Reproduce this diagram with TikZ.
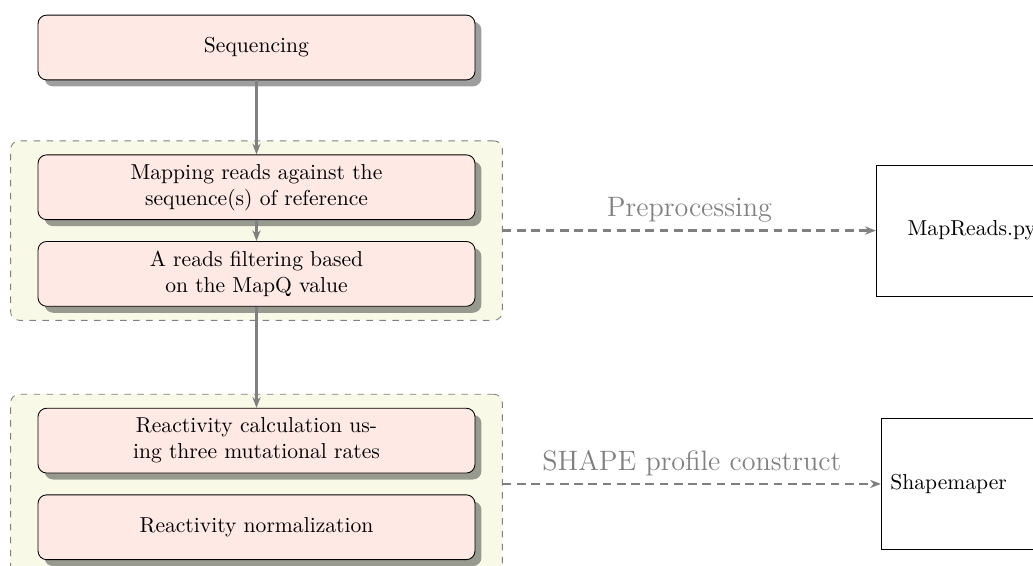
\documentclass[tikz,border=0pt]{standalone}
\usetikzlibrary{positioning, fit, backgrounds, shadows, arrows.meta}

\definecolor{stepfill}{RGB}{255,233,229}
\definecolor{groupfill}{RGB}{248,250,231}

\tikzset{
  stepbox/.style={draw, rounded corners=4pt, fill=stepfill,
    text width=120pt, align=center,
    minimum width=202.3pt, minimum height=30pt,
    drop shadow={shadow xshift=3pt, shadow yshift=-3pt, fill=black, opacity=0.38}},
  groupbox/.style={draw=gray, dashed, rounded corners=4pt, fill=groupfill,
    inner xsep=12.5pt, inner ysep=6.3pt},
  toolbox/.style={draw, minimum height=60.6pt},
  flow/.style={draw=gray, line width=1pt, -{Stealth[length=5pt, width=3.8pt]}},
  link/.style={draw=gray, line width=1pt, dash pattern=on 4pt off 2.6pt,
    -{Stealth[length=5pt, width=3.8pt]}},
  linklabel/.style={text=gray, font=\fontsize{13}{15}\selectfont}
}

\begin{document}
\begin{tikzpicture}
\useasboundingbox (-118.75pt,22pt) rectangle (359.5pt,-239.6pt);

% pipeline steps
\node[stepbox] (seq) at (0,0) {Sequencing};
\node[stepbox, below=34.3pt of seq] (map) {Mapping reads against the sequence(s) of reference};
\node[stepbox, below=9.7pt of map] (filt) {A reads filtering based on the MapQ value};
\node[stepbox, below=46.8pt of filt] (react) {Reactivity calculation using three mutational rates};
\node[stepbox, below=9.7pt of react] (norm) {Reactivity normalization};

% groups
\begin{scope}[on background layer]
  \node[groupbox, fit=(map)(filt)] (prep) {};
  \node[groupbox, fit=(react)(norm)] (shape) {};
\end{scope}

% tools
\node[toolbox, minimum width=88.4pt, right=172.7pt of prep] (mapreads) {MapReads.py};
\node[toolbox, inner xsep=4.2pt, text width=100pt, align=left,
  right=175pt of shape] (shapemaper) {Shapemaper};

\draw[flow] (seq) -- (map);
\draw[flow] (map) -- (filt);
\draw[flow] (filt) -- (react);

\draw[link] (prep) -- (mapreads) node[midway, above, linklabel] {Preprocessing};
\draw[link] (shape) -- (shapemaper) node[midway, above, linklabel] {SHAPE profile construct};
\end{tikzpicture}
\end{document}
